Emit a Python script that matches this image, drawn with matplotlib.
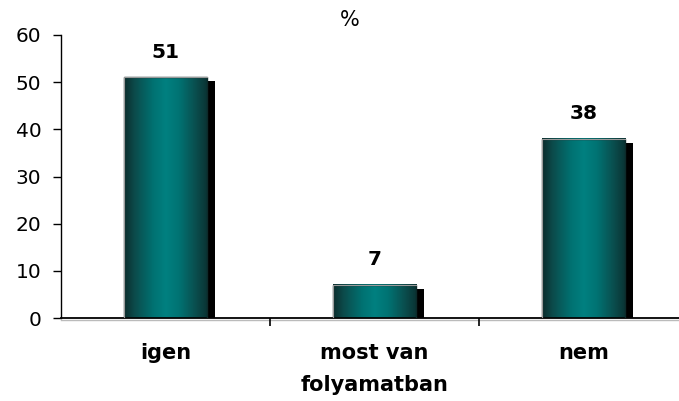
import numpy as np
import matplotlib.pyplot as plt
from matplotlib.colors import LinearSegmentedColormap

plt.rcParams['font.family'] = ['DejaVu Sans']

# chart data
categories = ['igen', 'most van\nfolyamatban', 'nem']
values = [51, 7, 38]
title = '%'

fig = plt.figure(figsize=(6.79, 4.01), dpi=100)
ax = fig.add_axes([61 / 679, 83 / 401, 627 / 679, 283 / 401])

x = np.arange(len(categories))
width = 0.40

# black drop shadow behind each bar
ax.bar(x + 0.035, np.array(values) - 0.8, width=width, color='black', zorder=1)

# the bars themselves (outline only, gradient filled below)
bars = ax.bar(x, values, width=width, color='none', edgecolor='#0d2a2a', linewidth=1.0, zorder=3)

cyl = LinearSegmentedColormap.from_list('cyl', [
    (0.0, '#0a2c2c'), (0.12, '#0c4a4a'), (0.35, '#007272'),
    (0.5, '#008080'), (0.65, '#007474'), (0.85, '#0a4f4f'), (1.0, '#0a3232')])
grad = np.linspace(0, 1, 256).reshape(1, -1)
for b in bars:
    x0, w, h = b.get_x(), b.get_width(), b.get_height()
    ax.imshow(grad, cmap=cyl, aspect='auto', extent=[x0, x0 + w, 0, h],
              zorder=2, interpolation='bicubic')
    # light edge on left and top
    ax.plot([x0, x0, x0 + w], [0, h, h], color='#9a9a9a', lw=0.8, zorder=4)
    ax.annotate(str(int(h)), (x0 + w / 2, h), xytext=(0, 18), textcoords='offset points',
                ha='center', va='center', fontsize=14.5, fontweight='bold')

ax.set_xlim(-0.5, len(categories) - 0.5)
ax.set_ylim(0, 60)
ax.set_yticks(range(0, 61, 10))
ax.set_xticks(x)
ax.set_xticklabels(categories, fontsize=15, fontweight='bold', linespacing=1.75)
ax.set_xticks(x[:-1] + 0.5, minor=True)
ax.tick_params(axis='x', which='major', length=0, pad=18)
ax.tick_params(axis='x', which='minor', length=6, width=1.2, direction='out')
ax.tick_params(axis='y', labelsize=14.5, length=6, width=1, pad=8)

for s in ['top', 'right']:
    ax.spines[s].set_visible(False)
ax.spines['left'].set_linewidth(1.0)
ax.spines['bottom'].set_linewidth(1.3)
ax.axhline(-0.45, color='#bbbbbb', lw=1, clip_on=False, zorder=0)

fig.text(350 / 679, 1 - 20 / 401, title, ha='center', va='center', fontsize=15)

fig.savefig('out.png', dpi=100)
